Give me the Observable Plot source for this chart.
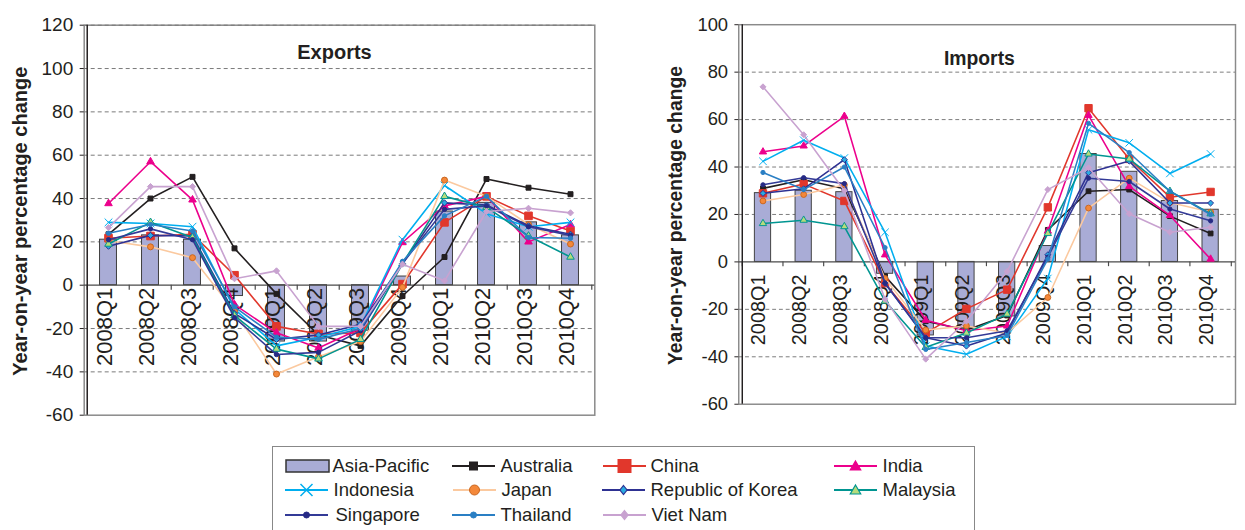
<!DOCTYPE html>
<html><head><meta charset="utf-8">
<script src="https://cdn.jsdelivr.net/npm/d3@7"></script>
<script src="https://cdn.jsdelivr.net/npm/@observablehq/plot@0.6"></script>
<style>
body{margin:0;background:#fff;font-family:"Liberation Sans",Arial,sans-serif;}
#wrap{position:relative;width:1245px;height:530px;overflow:hidden;background:#fff;}
#left{position:absolute;left:0;top:0;width:622px;}
#right{position:absolute;left:622px;top:0;width:623px;overflow:hidden;}
#legend{position:absolute;left:272px;top:446px;width:703px;height:110px;border:1.5px solid #888;box-sizing:border-box;}
.item{position:absolute;height:24px;line-height:24px;font-size:18.5px;color:#231f20;white-space:nowrap;}
.sw{position:absolute;top:0;}
</style>
</head><body>
<div id="wrap"><div id="left"></div><div id="right"></div><div id="legend"></div></div>
<script>
// ---------- data ----------
const categories = ["2008Q1","2008Q2","2008Q3","2008Q4","2009Q1","2009Q2","2009Q3","2009Q4","2010Q1","2010Q2","2010Q3","2010Q4"];
const seriesNames = ["Australia","China","India","Indonesia","Japan","Republic of Korea","Malaysia","Singapore","Thailand","Viet Nam"];
const barName = "Asia-Pacific";

const asiaPacificExp = [21, 23, 21, -5, -26, -26, -21, 4, 34, 38, 29, 23];
const australiaExp   = [23.5, 40, 50, 17, -4, -23, -28, -5, 13, 49, 45, 42];
const chinaExp       = [21.7, 22.7, 23.5, 4.6, -19, -22.5, -22, 0.5, 29, 41, 32, 25];
const indiaExp       = [37.7, 57, 39.4, -9, -22, -29, -20, 19.7, 36.6, 41, 20, 28];
const indonesiaExp   = [29, 28.5, 27, -11, -28, -24, -19, 21, 46, 33, 27, 29];
const japanExp       = [20.5, 17.7, 12.7, -12, -41, -33, -26, -1, 48.5, 41, 28, 19];
const koreaExp       = [18, 23, 22.7, -13, -25, -23, -18, 10, 38, 37, 27.4, 23.5];
const malaysiaExp    = [19, 29, 22, -14, -29.5, -34, -25, 10, 41, 36, 22.7, 13];
const singaporeExp   = [21, 26, 21, -15, -32, -31, -21, 10, 35, 36.6, 27, 23];
const thailandExp    = [24, 28, 25, -10, -24, -25, -20, 11, 32, 41, 22, 21.7];
const vietnamExp     = [26.6, 45.5, 45.5, 3, 6.6, -19, -19, 9.7, 2, 34, 35.5, 33.4];

const asiaPacificImp = [29, 30, 29.4, -5, -31, -28, -23, 6.7, 45.5, 38, 25.7, 22];
const australiaImp   = [31, 34.6, 30.8, -6, -25, -28.7, -22.6, 13.5, 29.8, 30.5, 19.3, 12];
const chinaImp       = [28.9, 32.8, 25.7, -9, -30, -19.8, -11.7, 23, 64.8, 43.4, 27.3, 29.5];
const indiaImp       = [46.4, 48.9, 61.4, 3, -24.6, -29, -27, 13, 61.8, 31.8, 19.6, 1.2];
const indonesiaImp   = [42.4, 51.3, 43.8, 12.5, -35.5, -38.9, -31.4, -7, 55.7, 50.2, 37.3, 45.5];
const japanImp       = [25.7, 28.4, 32.5, -7, -28.7, -27, -30, -15, 22.7, 35.3, 25, 21];
const koreaImp       = [28.9, 30.8, 43.1, -9, -32, -35.5, -30, 3, 37.6, 42.5, 24.8, 24.8];
const malaysiaImp    = [16.2, 17.6, 14.9, -16.5, -36, -30, -22, 12, 45.5, 43.4, 29.8, 20.3];
const singaporeImp   = [32.5, 35.5, 33, -9, -32, -32, -29, 2, 35.3, 33.9, 22.3, 17.3];
const thailandImp    = [37.7, 30.5, 40, 6, -36.9, -34, -31, 1.2, 58.4, 46.1, 29.8, 20];
const vietnamImp     = [73.8, 53.6, 30, -15.7, -41, -25, -4, 30.5, 39.7, 20.3, 12.5, 14.6];

const yTicksExp = [-60, -40, -20, 0, 20, 40, 60, 80, 100, 120];
const yTicksImp = [-60, -40, -20, 0, 20, 40, 60, 80, 100];
const yLabel = "Year-on-year percentage change";

// ---------- styles ----------
const styles = {
  "Australia":         {stroke:"#231f20", symbol:"square",   fill:"#231f20", mstroke:"#231f20", r:2.8, lr:4},
  "China":             {stroke:"#e1372c", symbol:"square",   fill:"#e1372c", mstroke:"#e1372c", r:4.3, lr:6.5},
  "India":             {stroke:"#ec008c", symbol:"triangle", fill:"#ec008c", mstroke:"#ec008c", r:2.8, lr:5},
  "Indonesia":         {stroke:"#00aeef", symbol:"times",    fill:"none",    mstroke:"#00aeef", r:3.6, lr:6},
  "Japan":             {stroke:"#fbc99f", symbol:"circle",   fill:"#f4883a", mstroke:"#c9661f", r:3.0, lr:5},
  "Republic of Korea": {stroke:"#2e3192", symbol:"diamond2", fill:"#29abe2", mstroke:"#2e3192", r:2.8, lr:4.5},
  "Malaysia":          {stroke:"#009591", symbol:"triangle", fill:"#b5dc7c", mstroke:"#009591", r:2.8, lr:5},
  "Singapore":         {stroke:"#333a97", symbol:"circle",   fill:"#262a85", mstroke:"#262a85", r:2.2, lr:3},
  "Thailand":          {stroke:"#2a7fc4", symbol:"circle",   fill:"#2a7fc4", mstroke:"#2a7fc4", r:2.2, lr:3},
  "Viet Nam":          {stroke:"#c8a2d0", symbol:"diamond2", fill:"#c8a2d0", mstroke:"#c8a2d0", r:2.8, lr:4.5}
};
const barFill = "#a9acd6", barStroke = "#404040";

function chart(cfg) {
  const bw = (cfg.width - cfg.marginLeft - cfg.marginRight) / categories.length;
  const inset = (bw - 17.5) / 2;
  const barRows = categories.map((q, i) => ({q, v: cfg.bars[i]}));
  const gridTicks = cfg.ticks.filter(t => t !== 0 && t !== cfg.ticks[0] && (cfg.dashedTop || t !== cfg.ticks[cfg.ticks.length-1]));
  const marks = [
    Plot.frame({stroke:"#8a8a8a", strokeWidth:1.5}),
    Plot.gridY(gridTicks, {stroke:"#7a7a7a", strokeOpacity:1, strokeDasharray:"4,3", strokeWidth:1}),
    Plot.barY(barRows, {x:"q", y:"v", fill:barFill, stroke:barStroke, strokeWidth:1, insetLeft:inset, insetRight:inset}),
    Plot.ruleY([0], {stroke:"#4a4a4a", strokeWidth:1.3}),
    Plot.ruleX(categories, {x:d=>d, y1:0, y2:cfg.tickDepth, dx:-bw/2, stroke:"#4a4a4a", strokeWidth:1.2}),
    Plot.ruleX([categories[categories.length-1]], {x:d=>d, y1:0, y2:cfg.tickDepth, dx:bw/2, stroke:"#4a4a4a", strokeWidth:1.2}),
    Plot.ruleX([categories[0]], {x:d=>d, dx:-bw/2, stroke:"#231f20", strokeWidth:1.5}),
    Plot.axisY(cfg.ticks, {tickSize:4, tickPadding:7, tickFormat:d=>String(d), fontSize:19, label:null, stroke:"#231f20"}),
    Plot.text(categories, {x:d=>d, y:()=>0, text:d=>d, rotate:-90, textAnchor:"end", lineAnchor:"middle", dx:-4, dy:cfg.catDy, fontSize:cfg.catSize, fill:"#231f20"}),
    Plot.text([yLabel], {text:d=>d, frameAnchor:"left", rotate:-90, textAnchor:"middle", dx:cfg.yLabelDx, dy:1, lineAnchor:"middle", fontSize:20, fontWeight:"bold", fill:"#231f20"}),
    Plot.text([cfg.title], {text:d=>d, frameAnchor:"top", textAnchor:"middle", lineAnchor:"middle", dx:cfg.titleDx, dy:cfg.titleDy, fontSize:20, fontWeight:"bold", fill:"#231f20"})
  ];
  seriesNames.forEach((name, k) => {
    const s = styles[name];
    const rows = categories.map((q, i) => ({q, v: cfg.series[k][i]}));
    marks.push(Plot.line(rows, {x:"q", y:"v", stroke:s.stroke, strokeWidth:1.6}));
    marks.push(Plot.dot(rows, {x:"q", y:"v", symbol:s.symbol, r:s.r, fill:s.fill, stroke:s.mstroke, strokeWidth:1}));
  });
  return Plot.plot({
    width: cfg.width, height: cfg.height,
    marginLeft: cfg.marginLeft, marginRight: cfg.marginRight, marginTop: cfg.marginTop, marginBottom: cfg.marginBottom,
    x: {type:"band", domain: categories, padding:0, axis:null},
    y: {domain: cfg.domain, axis:null},
    style: {fontFamily:"'Liberation Sans', Arial, sans-serif", color:"#231f20", background:"transparent", overflow:"visible"},
    marks
  });
}

document.getElementById("left").append(chart({
  width:622, height:440, marginLeft:83.7, marginRight:27.7, marginTop:24.7, marginBottom:25.3,
  domain:[-60,120], ticks:yTicksExp, tickDepth:-2.3, catDy:2.5, catSize:22, dashedTop:true,
  yLabelDx:-64, title:"Exports", titleDx:-5, titleDy:27,
  bars: asiaPacificExp,
  series:[australiaExp, chinaExp, indiaExp, indonesiaExp, japanExp, koreaExp, malaysiaExp, singaporeExp, thailandExp, vietnamExp]
}));
document.getElementById("right").append(chart({
  width:643, height:440, marginLeft:120, marginRight:10.3, marginTop:25, marginBottom:23.3,
  domain:[-60,100], ticks:yTicksImp, tickDepth:-2, catDy:13, catSize:20.5, dashedTop:false,
  yLabelDx:-65, title:"Imports", titleDx:-8, titleDy:35,
  bars: asiaPacificImp,
  series:[australiaImp, chinaImp, indiaImp, indonesiaImp, japanImp, koreaImp, malaysiaImp, singaporeImp, thailandImp, vietnamImp]
}));

// ---------- legend ----------
function markerSvg(s, cx, cy) {
  const r = s.lr;
  switch (s.symbol) {
    case "square": return `<rect x="${cx-r}" y="${cy-r}" width="${2*r}" height="${2*r}" fill="${s.fill}" stroke="${s.mstroke}"/>`;
    case "triangle": return `<polygon points="${cx},${cy-r} ${cx+r*1.05},${cy+r*0.8} ${cx-r*1.05},${cy+r*0.8}" fill="${s.fill}" stroke="${s.mstroke}" stroke-width="1.2"/>`;
    case "times": return `<path d="M${cx-r},${cy-r}L${cx+r},${cy+r}M${cx-r},${cy+r}L${cx+r},${cy-r}" stroke="${s.mstroke}" stroke-width="1.5"/>`;
    case "circle": return `<circle cx="${cx}" cy="${cy}" r="${r}" fill="${s.fill}" stroke="${s.mstroke}"/>`;
    case "diamond2": return `<polygon points="${cx},${cy-r} ${cx+r*0.8},${cy} ${cx},${cy+r} ${cx-r*0.8},${cy}" fill="${s.fill}" stroke="${s.mstroke}" stroke-width="1.2"/>`;
  }
  return "";
}
const legendItems = [
  {name: barName, sx:285, tx:333, y:466.7},
  {name:"Australia", sx:452, tx:501, y:466.7},
  {name:"China", sx:603, tx:651, y:466.7},
  {name:"India", sx:834, tx:883, y:466.7},
  {name:"Indonesia", sx:285, tx:334, y:490.5},
  {name:"Japan", sx:453, tx:502, y:490.5},
  {name:"Republic of Korea", sx:602, tx:651, y:490.5},
  {name:"Malaysia", sx:834, tx:883, y:490.5},
  {name:"Singapore", sx:285, tx:336, y:515.5},
  {name:"Thailand", sx:452, tx:501, y:515.5},
  {name:"Viet Nam", sx:603, tx:652, y:515.5}
];
const leg = document.getElementById("legend");
const L0 = 272, T0 = 446;
legendItems.forEach(it => {
  const top = it.y - T0 - 12 - 1.5;
  const sw = document.createElement("div");
  sw.className = "sw";
  sw.style.left = (it.sx - L0 - 1.5) + "px";
  sw.style.top = top + "px";
  let inner;
  if (it.name === barName) {
    inner = `<rect x="1" y="6" width="43" height="12" fill="${barFill}" stroke="#333" stroke-width="1.5"/>`;
  } else {
    const s = styles[it.name];
    inner = `<line x1="0" y1="12" x2="43" y2="12" stroke="${s.stroke}" stroke-width="2"/>` + markerSvg(s, 21.5, 12);
  }
  sw.innerHTML = `<svg width="45" height="24">${inner}</svg>`;
  leg.append(sw);
  const t = document.createElement("div");
  t.className = "item";
  t.style.left = (it.tx - L0 - 1.5) + "px";
  t.style.top = top + "px";
  t.textContent = it.name;
  leg.append(t);
});
</script>
</body></html>
